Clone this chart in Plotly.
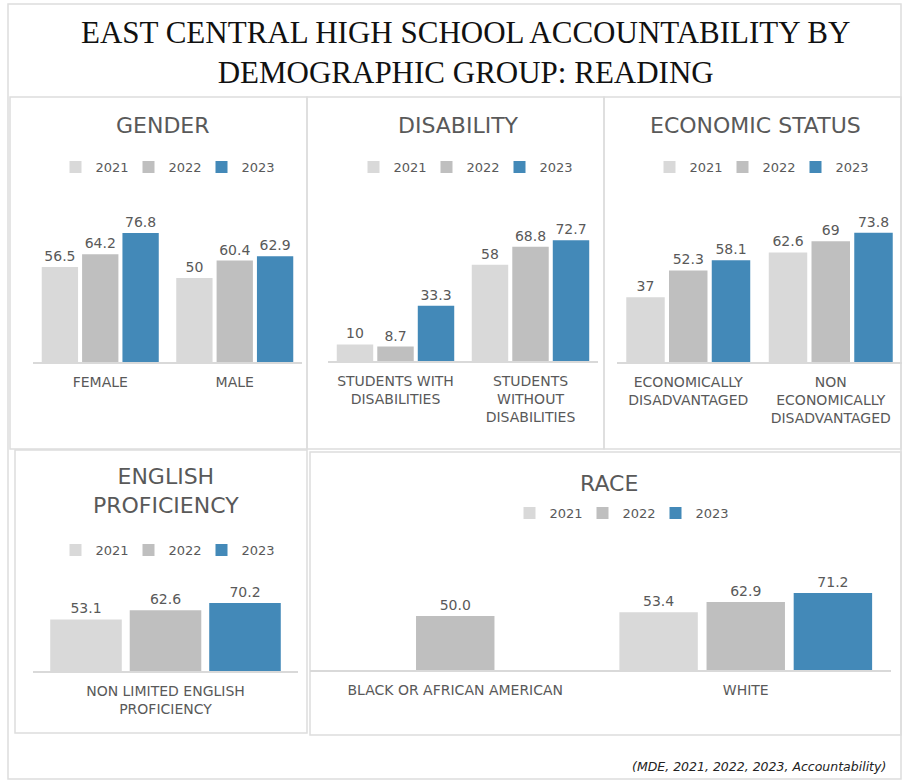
import plotly.graph_objects as go

W, H = 902, 780

years = ["2021", "2022", "2023"]
year_colors = ["#D9D9D9", "#BFBFBF", "#4389B8"]

gender_cats = ["FEMALE", "MALE"]
gender_2021 = [56.5, 50]
gender_2022 = [64.2, 60.4]
gender_2023 = [76.8, 62.9]

disability_cats = ["STUDENTS WITH<br>DISABILITIES", "STUDENTS<br>WITHOUT<br>DISABILITIES"]
disability_2021 = [10, 58]
disability_2022 = [8.7, 68.8]
disability_2023 = [33.3, 72.7]

econ_cats = ["ECONOMICALLY<br>DISADVANTAGED", "NON<br>ECONOMICALLY<br>DISADVANTAGED"]
econ_2021 = [37, 62.6]
econ_2022 = [52.3, 69]
econ_2023 = [58.1, 73.8]

english_cats = ["NON LIMITED ENGLISH<br>PROFICIENCY"]
english_2021 = [53.1]
english_2022 = [62.6]
english_2023 = [70.2]

race_cats = ["BLACK OR AFRICAN AMERICAN", "WHITE"]
race_2021 = [None, 53.4]
race_2022 = [50.0, 62.9]
race_2023 = [None, 71.2]

FONT = "DejaVu Sans"
GRAY = "#595959"
BORDER = "#DDDDDD"

# panel layout in pixels: plot x0, x1, baseline y, px per unit, legend centre (x, y), title
panels = [
    dict(cats=gender_cats, vals=[gender_2021, gender_2022, gender_2023], fmt="%{y}",
         x0=33, x1=302, base=362, scale=1.68, leg=(165, 167),
         title="GENDER", tpos=(163, 126)),
    dict(cats=disability_cats, vals=[disability_2021, disability_2022, disability_2023], fmt="%{y}",
         x0=328, x1=598, base=361, scale=1.66, leg=(463, 167),
         title="DISABILITY", tpos=(458, 126)),
    dict(cats=econ_cats, vals=[econ_2021, econ_2022, econ_2023], fmt="%{y}",
         x0=617, x1=902, base=362, scale=1.75, leg=(759, 167),
         title="ECONOMIC STATUS", tpos=(755, 126)),
    dict(cats=english_cats, vals=[english_2021, english_2022, english_2023], fmt="%{y}",
         x0=33, x1=298, base=671, scale=0.97, leg=(165, 550),
         title="ENGLISH<br>PROFICIENCY", tpos=(166, 491)),
    dict(cats=race_cats, vals=[race_2021, race_2022, race_2023], fmt="%{y:.1f}",
         x0=310, x1=891, base=670, scale=1.08, leg=(619, 513),
         title="RACE", tpos=(609, 483)),
]

fig = go.Figure()
layout = {}
annotations = []
YMAX = 90

for i, p in enumerate(panels):
    n = i + 1
    sfx = "" if n == 1 else str(n)
    legname = "legend" if n == 1 else f"legend{n}"
    for yr, col, v in zip(years, year_colors, p["vals"]):
        fig.add_trace(go.Bar(
            x=p["cats"], y=v, name=yr,
            marker=dict(color=col, line=dict(width=0)),
            texttemplate=p["fmt"], textposition="outside",
            textfont=dict(family=FONT, size=14, color=GRAY),
            cliponaxis=False,
            xaxis="x" + sfx, yaxis="y" + sfx,
            legend=legname,
        ))
    top_px = p["base"] - YMAX * p["scale"]
    layout["xaxis" + sfx] = dict(
        domain=[p["x0"] / W, min(p["x1"] / W, 1.0)],
        anchor="y" + sfx, type="category",
        showline=True, linecolor="#D9D9D9", linewidth=1.5,
        ticks="", showgrid=False, zeroline=False,
        tickfont=dict(family=FONT, size=14, color=GRAY),
        ticklabelstandoff=6, fixedrange=True,
    )
    layout["yaxis" + sfx] = dict(
        domain=[1 - p["base"] / H, 1 - top_px / H],
        anchor="x" + sfx, range=[0, YMAX], visible=False,
        showgrid=False, zeroline=False, fixedrange=True,
    )
    layout[legname] = dict(
        orientation="h", x=p["leg"][0] / W, y=1 - p["leg"][1] / H,
        xanchor="center", yanchor="middle",
        font=dict(family=FONT, size=13, color=GRAY),
        itemwidth=30, bgcolor="rgba(0,0,0,0)", traceorder="normal",
        entrywidth=28, entrywidthmode="pixels",
    )
    annotations.append(dict(
        text=p["title"], x=p["tpos"][0] / W, y=1 - p["tpos"][1] / H,
        xref="paper", yref="paper", showarrow=False,
        xanchor="center", yanchor="middle",
        font=dict(family=FONT, size=22, color=GRAY),
    ))

annotations.append(dict(
    text="EAST CENTRAL HIGH SCHOOL ACCOUNTABILITY BY<br>DEMOGRAPHIC GROUP: READING",
    x=465 / W, y=1 - 53 / H, xref="paper", yref="paper", showarrow=False,
    xanchor="center", yanchor="middle",
    font=dict(family="Liberation Serif", size=31, color="#111111"),
))
annotations.append(dict(
    text="<i>(MDE, 2021, 2022, 2023, Accountability)</i>",
    x=888 / W, y=1 - 766 / H, xref="paper", yref="paper", showarrow=False,
    xanchor="right", yanchor="middle",
    font=dict(family=FONT, size=12.5, color="#222222"),
))

def box(x0, y0, x1, y1):
    return dict(type="rect", xref="paper", yref="paper",
                x0=x0 / W, x1=x1 / W, y0=1 - y1 / H, y1=1 - y0 / H,
                line=dict(color=BORDER, width=1.5), fillcolor="rgba(0,0,0,0)", layer="below")

shapes = [
    box(8, 4, 901, 779),
    box(10, 97, 307, 449),
    box(307, 97, 604, 449),
    box(604, 97, 901, 449),
    box(15, 450, 307, 733),
    box(310, 452, 901, 735),
]

fig.update_layout(
    width=W, height=H, margin=dict(l=0, r=0, t=0, b=0),
    paper_bgcolor="white", plot_bgcolor="white",
    barmode="group", bargap=0.1, bargroupgap=0.1,
    annotations=annotations, shapes=shapes, showlegend=True,
    **layout,
)

fig.write_html(
    "out.html",
    config={"displayModeBar": False},
    post_script="document.body.style.margin='0';document.body.style.overflow='hidden';",
)
